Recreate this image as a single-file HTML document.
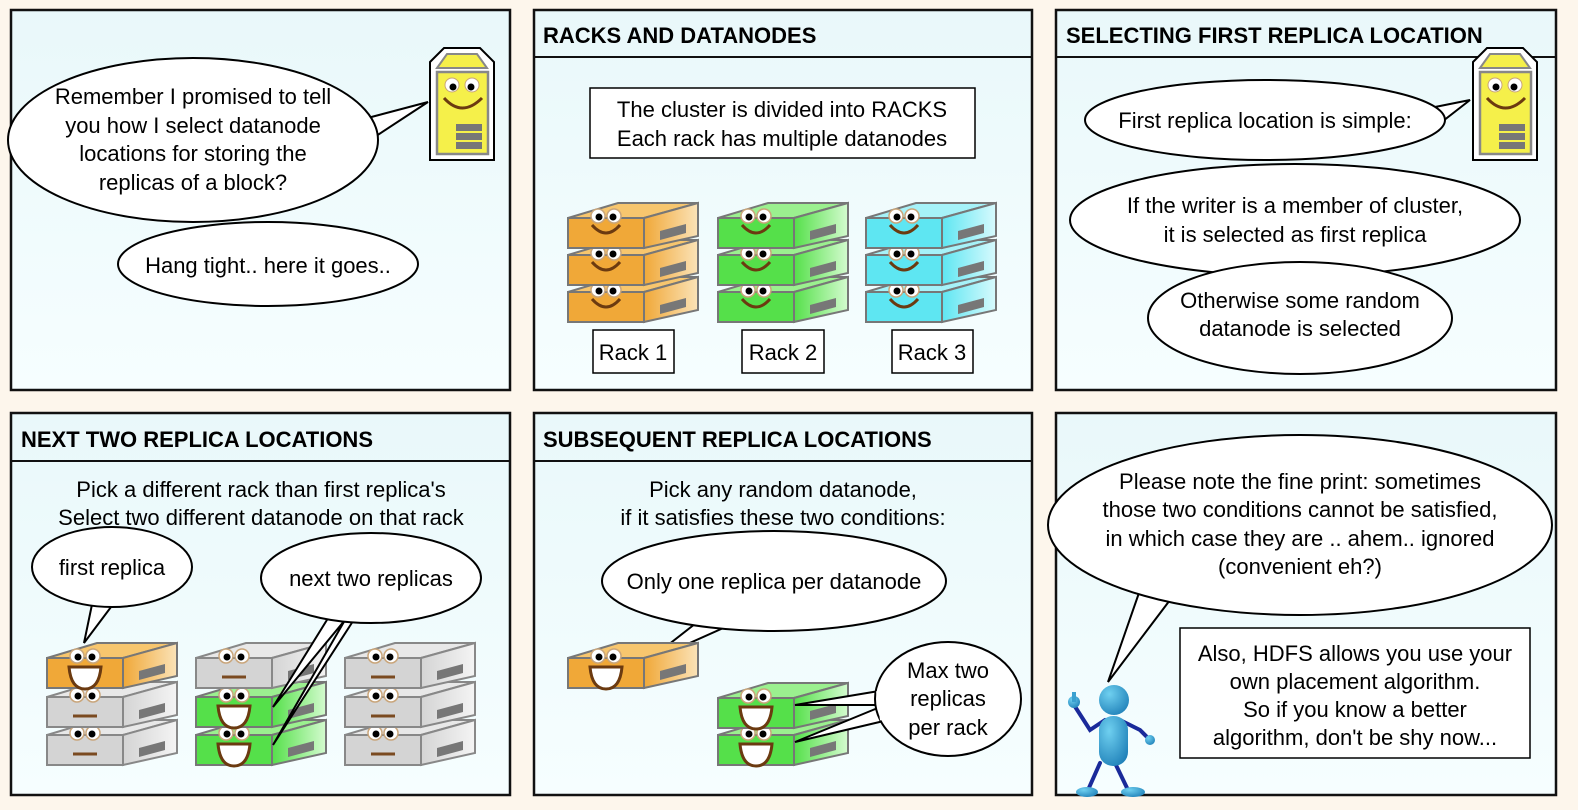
<!DOCTYPE html>
<html><head><meta charset="utf-8"><style>
body{margin:0;background:#fdf6ec;}
svg{display:block}
text{font-family:"Liberation Sans",sans-serif;font-size:22px;fill:#000}
.h{font-weight:bold;font-size:22px}
.b{fill:#fff;stroke:#000;stroke-width:2}
.p{fill:url(#pg);stroke:#111;stroke-width:2.5}
</style></head><body>
<svg width="1578" height="810" viewBox="0 0 1578 810" xmlns="http://www.w3.org/2000/svg">
<defs>
<linearGradient id="pg" x1="0" y1="0" x2="0" y2="1"><stop offset="0" stop-color="#e9f8fa"/><stop offset="1" stop-color="#f6feff"/></linearGradient>
<linearGradient id="og" x1="0" y1="0" x2="1" y2="0"><stop offset="0" stop-color="#f0a838"/><stop offset="1" stop-color="#fbe3b8"/></linearGradient>
<linearGradient id="gg" x1="0" y1="0" x2="1" y2="0"><stop offset="0" stop-color="#55e04a"/><stop offset="1" stop-color="#d4fbcf"/></linearGradient>
<linearGradient id="cg" x1="0" y1="0" x2="1" y2="0"><stop offset="0" stop-color="#5ee6f2"/><stop offset="1" stop-color="#d8fafd"/></linearGradient>
<linearGradient id="wg" x1="0" y1="0" x2="1" y2="0"><stop offset="0" stop-color="#d4d4d4"/><stop offset="1" stop-color="#f4f4f4"/></linearGradient>
<radialGradient id="blue" cx="0.35" cy="0.3" r="0.8"><stop offset="0" stop-color="#6fd0f0"/><stop offset="1" stop-color="#1f80b8"/></radialGradient>
<g id="eyes"><circle cx="30" cy="13" r="7" fill="#fff" stroke="#c9a57a" stroke-width="1.5"/><circle cx="46" cy="13" r="7" fill="#fff" stroke="#c9a57a" stroke-width="1.5"/><circle cx="31" cy="14" r="3.5" fill="#000"/><circle cx="45" cy="14" r="3.5" fill="#000"/></g>
<g id="uo"><polygon points="0,15 50,0 130,0 76,15" fill="#f7c66e" stroke="#777" stroke-width="2"/><polygon points="76,15 130,0 130,33 76,45" fill="url(#og)" stroke="#777" stroke-width="2"/><rect x="0" y="15" width="76" height="30" fill="#f0a838" stroke="#777" stroke-width="2"/><polygon points="92,28 118,21 118,30 92,37" fill="#777"/></g>
<g id="ug"><polygon points="0,15 50,0 130,0 76,15" fill="#9bf08f" stroke="#777" stroke-width="2"/><polygon points="76,15 130,0 130,33 76,45" fill="url(#gg)" stroke="#777" stroke-width="2"/><rect x="0" y="15" width="76" height="30" fill="#55e04a" stroke="#777" stroke-width="2"/><polygon points="92,28 118,21 118,30 92,37" fill="#777"/></g>
<g id="uc"><polygon points="0,15 50,0 130,0 76,15" fill="#a6f2f8" stroke="#777" stroke-width="2"/><polygon points="76,15 130,0 130,33 76,45" fill="url(#cg)" stroke="#777" stroke-width="2"/><rect x="0" y="15" width="76" height="30" fill="#5ee6f2" stroke="#777" stroke-width="2"/><polygon points="92,28 118,21 118,30 92,37" fill="#777"/></g>
<g id="uw"><polygon points="0,15 50,0 130,0 76,15" fill="#e8e8e8" stroke="#888" stroke-width="2"/><polygon points="76,15 130,0 130,33 76,45" fill="url(#wg)" stroke="#888" stroke-width="2"/><rect x="0" y="15" width="76" height="30" fill="#d4d4d4" stroke="#888" stroke-width="2"/><polygon points="92,28 118,21 118,30 92,37" fill="#777"/></g>
<path id="smile" d="M24,22 Q38,38 52,22" fill="none" stroke="#6b3a10" stroke-width="3"/>
<path id="grin" d="M22,24 L54,24 Q52,46 38,46 Q24,46 22,24Z" fill="#fff" stroke="#6b3a10" stroke-width="3"/>
<path id="flat" d="M26,34 L50,34" stroke="#7a4a20" stroke-width="3"/>
</defs>
<rect width="1578" height="810" fill="#fdf6ec"/>
<!-- panels -->
<rect class="p" x="11" y="10" width="499" height="380"/>
<rect class="p" x="534" y="10" width="498" height="380"/>
<rect class="p" x="1056" y="10" width="500" height="380"/>
<rect class="p" x="11" y="413" width="499" height="382"/>
<rect class="p" x="534" y="413" width="498" height="382"/>
<rect class="p" x="1056" y="413" width="500" height="382"/>
<line x1="534" y1="57" x2="1032" y2="57" stroke="#111" stroke-width="2"/>
<line x1="1056" y1="57" x2="1556" y2="57" stroke="#111" stroke-width="2"/>
<line x1="11" y1="461" x2="510" y2="461" stroke="#111" stroke-width="2"/>
<line x1="534" y1="461" x2="1032" y2="461" stroke="#111" stroke-width="2"/>
<text class="h" x="543" y="43">RACKS AND DATANODES</text>
<text class="h" x="1066" y="43">SELECTING FIRST REPLICA LOCATION</text>
<text class="h" x="21" y="447">NEXT TWO REPLICA LOCATIONS</text>
<text class="h" x="543" y="447">SUBSEQUENT REPLICA LOCATIONS</text>

<!-- tower icons -->
<g id="tower"><path d="M430,62 L444,48 L480,48 L494,62 L494,160 L430,160Z" fill="#fff" stroke="#000" stroke-width="2"/><path d="M437,68 L447,54 L477,54 L487,68Z" fill="#f5f04a" stroke="#888" stroke-width="2"/><rect x="437" y="72" width="51" height="82" fill="#f5f04a" stroke="#888" stroke-width="2.5"/><circle cx="452" cy="85" r="7" fill="#fff" stroke="#c9a57a"/><circle cx="472" cy="85" r="7" fill="#fff" stroke="#c9a57a"/><circle cx="453" cy="87" r="3.5"/><circle cx="471" cy="87" r="3.5"/><path d="M444,98 Q462,118 482,98" fill="none" stroke="#6b3a10" stroke-width="3"/><rect x="456" y="124" width="26" height="7" fill="#777"/><rect x="456" y="133" width="26" height="7" fill="#777"/><rect x="456" y="142" width="26" height="7" fill="#777"/></g>
<use href="#tower" x="1043" y="0"/>

<!-- panel 1 -->
<path class="b" d="M360,120 L428,102 L370,140"/>
<ellipse class="b" cx="193" cy="140" rx="185" ry="82"/>
<path d="M358,118 L374,142" stroke="#fff" stroke-width="5"/>
<text x="193" y="104" text-anchor="middle">Remember I promised to tell</text>
<text x="193" y="133" text-anchor="middle">you how I select datanode</text>
<text x="193" y="161" text-anchor="middle">locations for storing the</text>
<text x="193" y="190" text-anchor="middle">replicas of a block?</text>
<ellipse class="b" cx="268" cy="264" rx="150" ry="42"/>
<text x="268" y="273" text-anchor="middle">Hang tight.. here it goes..</text>

<!-- panel 2 -->
<rect x="590" y="88" width="385" height="70" fill="#fff" stroke="#000" stroke-width="1.5"/>
<text x="782" y="117" text-anchor="middle">The cluster is divided into RACKS</text>
<text x="782" y="146" text-anchor="middle">Each rack has multiple datanodes</text>
<g transform="translate(568,277)"><use href="#uo"/><use href="#eyes"/><use href="#smile"/></g>
<g transform="translate(568,240)"><use href="#uo"/><use href="#eyes"/><use href="#smile"/></g>
<g transform="translate(568,203)"><use href="#uo"/><use href="#eyes"/><use href="#smile"/></g>
<g transform="translate(718,277)"><use href="#ug"/><use href="#eyes"/><use href="#smile"/></g>
<g transform="translate(718,240)"><use href="#ug"/><use href="#eyes"/><use href="#smile"/></g>
<g transform="translate(718,203)"><use href="#ug"/><use href="#eyes"/><use href="#smile"/></g>
<g transform="translate(866,277)"><use href="#uc"/><use href="#eyes"/><use href="#smile"/></g>
<g transform="translate(866,240)"><use href="#uc"/><use href="#eyes"/><use href="#smile"/></g>
<g transform="translate(866,203)"><use href="#uc"/><use href="#eyes"/><use href="#smile"/></g>
<rect x="593" y="330" width="81" height="43" fill="#fff" stroke="#000" stroke-width="1.5"/><text x="633" y="360" text-anchor="middle">Rack 1</text>
<rect x="742" y="330" width="82" height="43" fill="#fff" stroke="#000" stroke-width="1.5"/><text x="783" y="360" text-anchor="middle">Rack 2</text>
<rect x="892" y="330" width="81" height="43" fill="#fff" stroke="#000" stroke-width="1.5"/><text x="932" y="360" text-anchor="middle">Rack 3</text>

<!-- panel 3 -->
<path class="b" d="M1420,110 L1470,100 L1425,135"/>
<ellipse class="b" cx="1265" cy="120" rx="180" ry="40"/>
<path d="M1418,110 L1428,132" stroke="#fff" stroke-width="5"/>
<text x="1265" y="128" text-anchor="middle">First replica location is simple:</text>
<ellipse class="b" cx="1295" cy="220" rx="225" ry="56"/>
<text x="1295" y="213" text-anchor="middle">If the writer is a member of cluster,</text>
<text x="1295" y="242" text-anchor="middle">it is selected as first replica</text>
<ellipse class="b" cx="1300" cy="318" rx="152" ry="56"/>
<text x="1300" y="308" text-anchor="middle">Otherwise some random</text>
<text x="1300" y="336" text-anchor="middle">datanode is selected</text>

<!-- panel 4 -->
<text x="261" y="497" text-anchor="middle">Pick a different rack than first replica's</text>
<text x="261" y="525" text-anchor="middle">Select two different datanode on that rack</text>
<path class="b" d="M95,590 L84,643 L120,595"/>
<ellipse class="b" cx="112" cy="567" rx="80" ry="40"/>
<path d="M96,588 L118,592" stroke="#fff" stroke-width="5"/>
<text x="112" y="575" text-anchor="middle">first replica</text>
<g transform="translate(47,720)"><use href="#uw"/><use href="#eyes"/><use href="#flat"/></g>
<g transform="translate(47,682)"><use href="#uw"/><use href="#eyes"/><use href="#flat"/></g>
<g transform="translate(47,643)"><use href="#uo"/><use href="#eyes"/><use href="#grin"/></g>
<g transform="translate(345,720)"><use href="#uw"/><use href="#eyes"/><use href="#flat"/></g>
<g transform="translate(345,682)"><use href="#uw"/><use href="#eyes"/><use href="#flat"/></g>
<g transform="translate(345,643)"><use href="#uw"/><use href="#eyes"/><use href="#flat"/></g>
<g transform="translate(196,720)"><use href="#ug"/><use href="#eyes"/><use href="#grin"/></g>
<g transform="translate(196,682)"><use href="#ug"/><use href="#eyes"/><use href="#grin"/></g>
<g transform="translate(196,643)"><use href="#uw"/><use href="#eyes"/><use href="#flat"/></g>
<path class="b" d="M330,615 L273,707 L345,620 L273,745 L355,618"/>
<ellipse class="b" cx="371" cy="578" rx="110" ry="45"/>
<path d="M332,614 L356,617" stroke="#fff" stroke-width="6"/>
<text x="371" y="586" text-anchor="middle">next two replicas</text>

<!-- panel 5 -->
<text x="783" y="497" text-anchor="middle">Pick any random datanode,</text>
<text x="783" y="525" text-anchor="middle">if it satisfies these two conditions:</text>
<path class="b" d="M700,620 L645,663 L730,625"/>
<ellipse class="b" cx="774" cy="581" rx="172" ry="50"/>
<path d="M700,618 L730,622" stroke="#fff" stroke-width="6"/>
<text x="774" y="589" text-anchor="middle">Only one replica per datanode</text>
<g transform="translate(568,643)"><use href="#uo"/><use href="#eyes"/><use href="#grin"/></g>
<g transform="translate(718,720)"><use href="#ug"/><use href="#eyes"/><use href="#grin"/></g>
<g transform="translate(718,683)"><use href="#ug"/><use href="#eyes"/><use href="#grin"/></g>
<path class="b" d="M885,690 L795,705 L885,705 L795,742 L888,720"/>
<ellipse class="b" cx="948" cy="699" rx="73" ry="57"/>
<path d="M879,691 L883,720" stroke="#fff" stroke-width="6"/>
<text x="948" y="678" text-anchor="middle">Max two</text>
<text x="948" y="706" text-anchor="middle">replicas</text>
<text x="948" y="735" text-anchor="middle">per rack</text>

<!-- panel 6 -->
<path class="b" d="M1140,590 L1108,682 L1170,600"/>
<ellipse class="b" cx="1300" cy="525" rx="252" ry="90"/>
<path d="M1140,588 L1172,598" stroke="#fff" stroke-width="6"/>
<text x="1300" y="489" text-anchor="middle">Please note the fine print: sometimes</text>
<text x="1300" y="517" text-anchor="middle">those two conditions cannot be satisfied,</text>
<text x="1300" y="546" text-anchor="middle">in which case they are .. ahem.. ignored</text>
<text x="1300" y="574" text-anchor="middle">(convenient eh?)</text>
<rect x="1180" y="628" width="350" height="130" fill="#fff" stroke="#000" stroke-width="1.5"/>
<text x="1355" y="661" text-anchor="middle">Also, HDFS allows you use your</text>
<text x="1355" y="689" text-anchor="middle">own placement algorithm.</text>
<text x="1355" y="717" text-anchor="middle">So if you know a better</text>
<text x="1355" y="745" text-anchor="middle">algorithm, don't be shy now...</text>
<!-- figure -->
<g>
<path d="M1074,705 L1090,730 L1105,720 M1120,720 L1140,730 L1148,738 M1100,763 L1088,790 M1115,763 L1128,790" fill="none" stroke="#1a2a9a" stroke-width="4" stroke-linecap="round"/>
<circle cx="1074" cy="702" r="6" fill="url(#blue)"/><rect x="1072" y="692" width="4" height="10" fill="#3aa0d0"/>
<circle cx="1150" cy="740" r="5" fill="url(#blue)"/>
<circle cx="1114" cy="700" r="15" fill="url(#blue)"/>
<rect x="1099" y="716" width="29" height="50" rx="14" fill="url(#blue)"/>
<ellipse cx="1087" cy="792" rx="11" ry="5" fill="url(#blue)"/>
<ellipse cx="1133" cy="792" rx="12" ry="5" fill="url(#blue)"/>
</g>
</svg>
</body></html>
